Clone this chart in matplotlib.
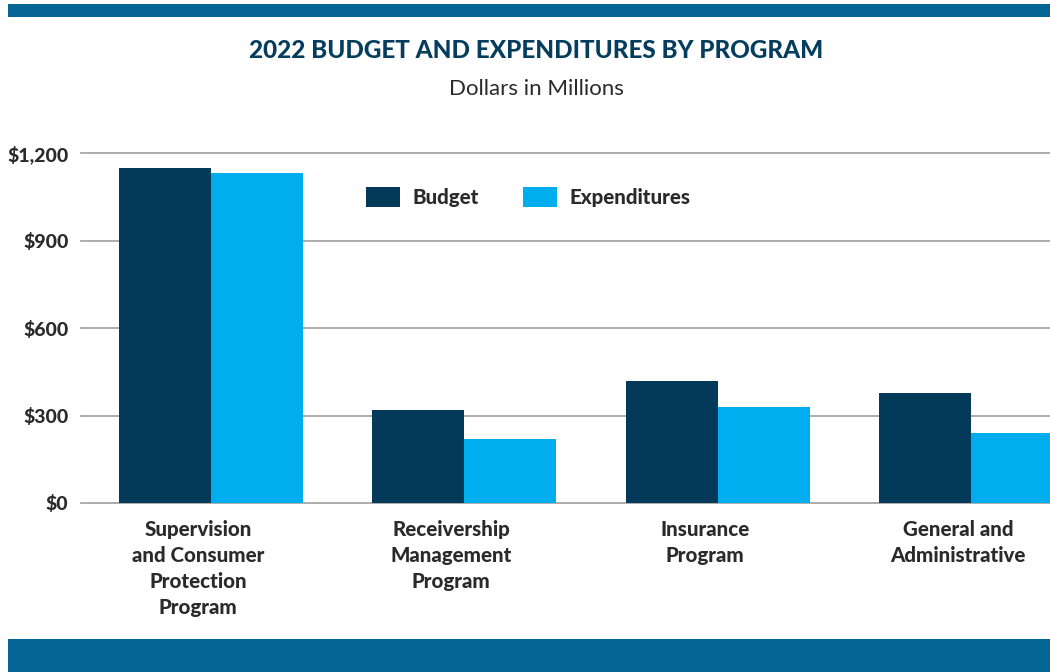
import matplotlib
matplotlib.use("Agg")
import matplotlib.pyplot as plt
from matplotlib.patches import Rectangle
import numpy as np

categories = ["Supervision\nand Consumer\nProtection\nProgram",
              "Receivership\nManagement\nProgram",
              "Insurance\nProgram",
              "General and\nAdministrative"]
budget = [1150, 320, 420, 378]
expenditures = [1130, 220, 330, 240]
y_ticks = [0, 300, 600, 900, 1200]
y_tick_labels = ["$0", "$300", "$600", "$900", "$1,200"]
series_names = ["Budget", "Expenditures"]

DARK = "#033A5A"
LIGHT = "#00AEEF"
BAND = "#026593"
TITLE_C = "#053D5E"
TEXT_C = "#2A2A2A"
FONT = ["Lato", "DejaVu Sans"]

W, H = 1050, 672
fig = plt.figure(figsize=(W / 100, H / 100), dpi=100)
fig.patch.set_facecolor("white")

# bands
fig.patches.append(Rectangle((8 / W, 1 - 17 / H), 1, 13 / H, transform=fig.transFigure,
                             facecolor=BAND, edgecolor="none"))
fig.patches.append(Rectangle((8 / W, 0), 1, 33 / H, transform=fig.transFigure,
                             facecolor=BAND, edgecolor="none"))

fig.text(536 / W, 1 - 50 / H, "2022 BUDGET AND EXPENDITURES BY PROGRAM", ha="center", va="center",
         fontsize=17.5, fontweight="black", color=TITLE_C, family=FONT)
fig.text(536 / W, 1 - 89 / H, "Dollars in Millions", ha="center", va="center",
         fontsize=16, color=TEXT_C, family=FONT)

ax_left, ax_right = 81, 1050
y0, y1 = 503, 153
ax = fig.add_axes([ax_left / W, 1 - y0 / H, (ax_right - ax_left) / W, (y0 - y1) / H])
spacing = 253.33
c0 = 211
ax.set_xlim((ax_left - c0) / spacing, (ax_right - c0) / spacing)
ax.set_ylim(0, 1200)
bw = 92 / spacing
x = np.arange(len(categories))
ax.bar(x - bw / 2, budget, width=bw, color=DARK, zorder=3, label=series_names[0])
ax.bar(x + bw / 2, expenditures, width=bw, color=LIGHT, zorder=3, label=series_names[1])

for t in y_ticks:
    ax.axhline(t, color="#A6A6A6", lw=1.3, zorder=1, clip_on=False)

for s in ax.spines.values():
    s.set_visible(False)
ax.set_yticks(y_ticks)
ax.set_yticklabels(y_tick_labels, family=FONT, fontweight="black", fontsize=14, color=TEXT_C)
ax.tick_params(axis="y", length=0, pad=9)
ax.set_xticks(x - 13 / spacing)
ax.set_xticklabels(categories, family=FONT, fontweight="black", fontsize=14.8, color=TEXT_C,
                   linespacing=1.42, va="top")
ax.tick_params(axis="x", length=0, pad=12.5)

fs_leg = 14.8
fpx = fs_leg * 100 / 72
leg = ax.legend(loc="upper left",
                bbox_to_anchor=((366 - ax_left) / (ax_right - ax_left), 1 - (187 - y1) / (y0 - y1)),
                ncol=2, frameon=False, borderpad=0, borderaxespad=0,
                handlelength=34 / fpx, handleheight=23 / fpx, handletextpad=12 / fpx,
                columnspacing=45 / fpx, prop={"family": FONT, "weight": "black", "size": fs_leg})
for t in leg.get_texts():
    t.set_color(TEXT_C)

fig.savefig("out.png", dpi=100, facecolor="white")
